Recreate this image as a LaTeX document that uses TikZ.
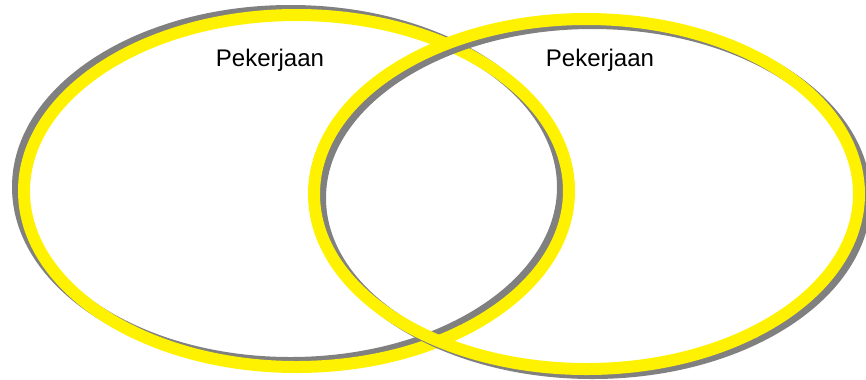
\documentclass[tikz,border=0pt]{standalone}
\usepackage{fontspec}
\setmainfont{Liberation Sans}
\usetikzlibrary{positioning}

\begin{document}
\begin{tikzpicture}[x=0.03cm, y=-0.03cm]
    \def\lw{12*0.03cm} % ring width
    \tikzset{
      ring/.style={draw=yellow, line width=\lw},
      shade/.style={draw=black!50, line width=\lw},
      label/.style={font=\fontsize{20.5}{24}\selectfont, anchor=base}
    }
    \useasboundingbox (0, 0) rectangle (866, 379);

    % Left circle (shadow up-left)
    \draw[shade] (290.5, 187) ellipse [x radius=272.5, y radius=176];
    \draw[ring] (296.5, 191) ellipse [x radius=272.5, y radius=176];

    % Right circle (shadow down-right)
    \draw[shade] (592.5, 198) ellipse [x radius=272.5, y radius=175];
    \draw[ring] (586.5, 194) ellipse [x radius=272.5, y radius=175];

    % Labels
    \node[label] (kerjaA) at (270, 66.5) {Pekerjaan};
    \node[label] (kerjaB) at (600, 66.5) {Pekerjaan};

  \end{tikzpicture}
\end{document}
